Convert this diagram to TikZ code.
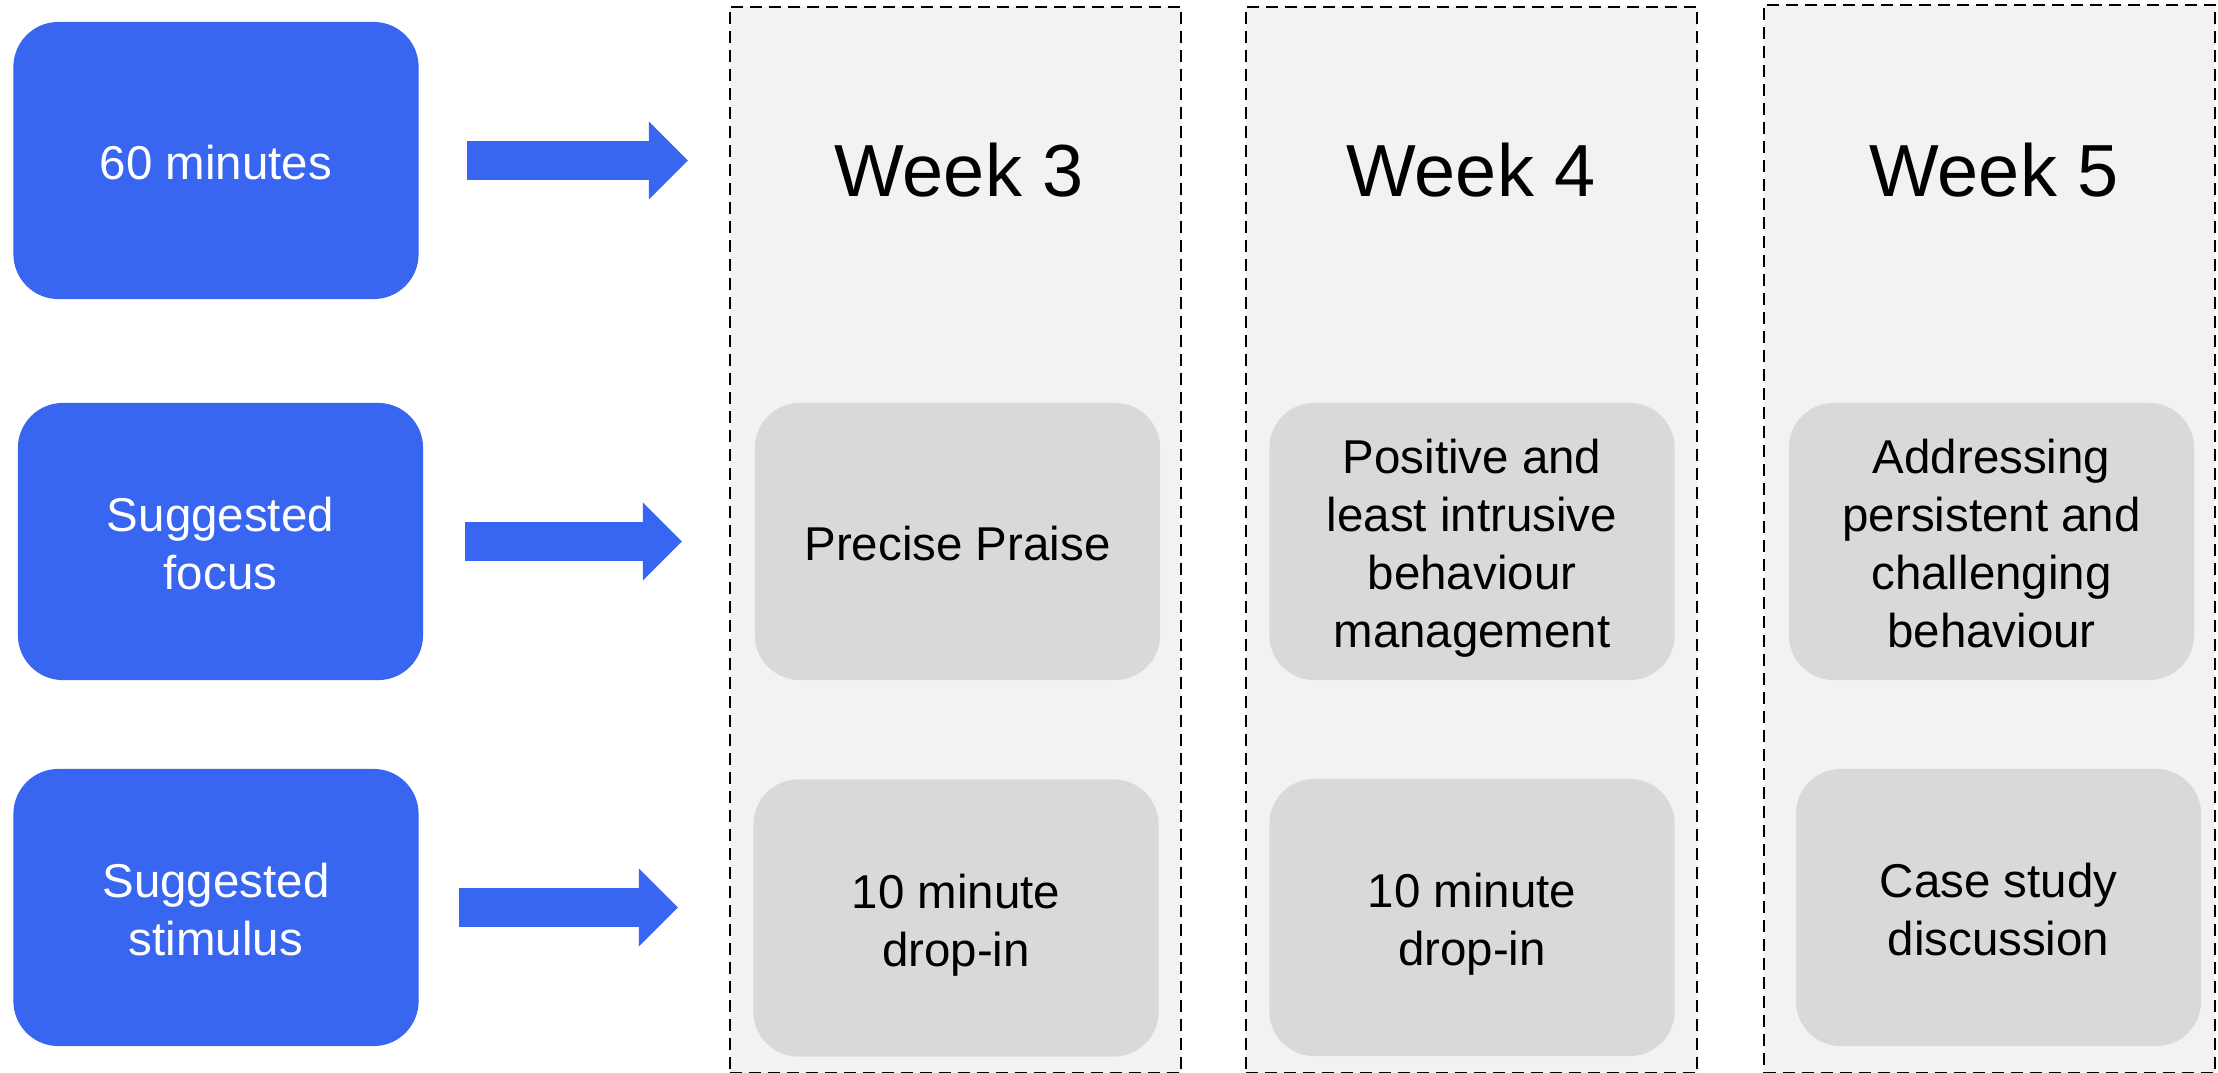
\documentclass[tikz,border=0pt]{standalone}
\usepackage{fontspec}
\setmainfont{Liberation Sans}
\usetikzlibrary{arrows.meta,positioning}
\definecolor{boxblue}{RGB}{56,102,240}
\definecolor{colgray}{RGB}{242,242,242}
\definecolor{cardgray}{RGB}{217,217,217}
\newcommand{\linestrut}{\rule[-2.84pt]{0pt}{16.74pt}}
\tikzset{
    label_block/.style={rectangle, rounded corners=0.45cm, fill=boxblue, text=white, minimum width=4.05cm, minimum height=2.77cm, inner sep=0pt, align=center, font=\fontsize{13.5}{16.5}\selectfont,
        execute at end node=\linestrut},
    card/.style={label_block, fill=cardgray, text=black},
    week_col/.style={rectangle, draw=black, line width=0.5pt, dash pattern=on 3.4pt off 2pt, fill=colgray, minimum width=4.51cm, inner sep=0pt},
    week_title/.style={font=\fontsize{21}{25}\selectfont, inner sep=0pt},
    fat_arrow/.style={boxblue, line width=0.38cm, -{Triangle[length=0.39cm, width=0.78cm, line width=0pt]}},
}

\begin{document}
\begin{tikzpicture}
        [x=0.01cm, y=-0.01cm]
        \useasboundingbox (0,0) rectangle (2218,1073);

        % Week columns
        \node[week_col, minimum height=10.66cm] (w3) at (955.5,540) {};
        \node[week_col, minimum height=10.66cm] (w4) at (1471.5,540) {};
        \node[week_col, minimum height=10.68cm] (w5) at (1989.5,539) {};

        \node[week_title] (t3) at (959,170) {Week 3};
        \node[week_title] (t4) at (1471,170) {Week 4};
        \node[week_title] (t5) at (1994,170) {Week 5};

        % Row labels
        \node[label_block] (mins) at (216,160.5) {\linestrut 60 minutes};
        \node[label_block] (focus) at (220.5,541.5) {\linestrut Suggested\\focus};
        \node[label_block] (stim) at (216,907.5) {\linestrut Suggested\\stimulus};

        % Cards
        \node[card] (f3) at (957.5,541.5) {\linestrut Precise Praise};
        \node[card] (s3) at (956,918) {\linestrut 10 minute\\drop-in};
        \node[card] (f4) at (1472,541.5) {\linestrut Positive and\\least intrusive\\behaviour\\management};
        \node[card] (s4) at (1472,917.5) {\linestrut 10 minute\\drop-in};
        \node[card] (f5) at (1991.5,541.5) {\linestrut Addressing\\persistent and\\challenging\\behaviour};
        \node[card] (s5) at (1998.5,907.5) {\linestrut Case study\\discussion};

        % Arrows
        \draw[fat_arrow, shorten <=0.48cm, shorten >=0.41cm] (mins.east) -- (mins.east -| w3.west);
        \draw[fat_arrow, shorten <=0.41cm, shorten >=0.47cm] (focus.east) -- (focus.east -| w3.west);
        \draw[fat_arrow, shorten <=0.40cm, shorten >=0.51cm] (stim.east) -- (stim.east -| w3.west);

    \end{tikzpicture}
\end{document}
